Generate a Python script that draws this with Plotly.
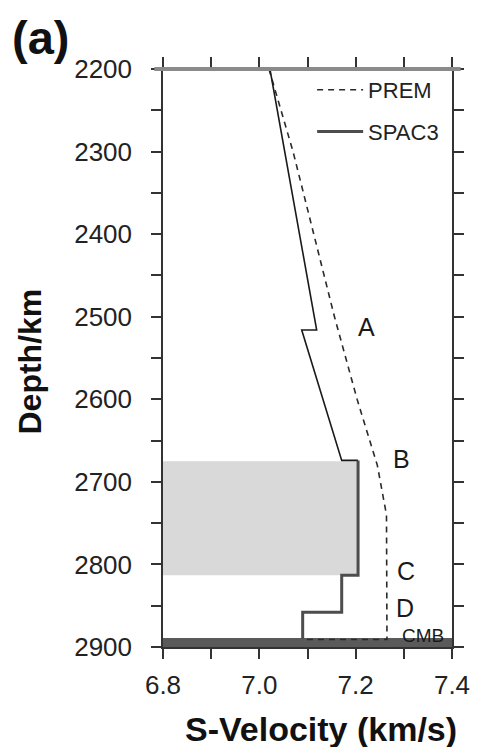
import plotly.graph_objects as go

# ---- data (depth in km, S-velocity in km/s) ----
prem_depth = [2200, 2300, 2400, 2500, 2600, 2680, 2740, 2891, 2891]
prem_vs = [7.02, 7.07, 7.113, 7.156, 7.203, 7.245, 7.264, 7.265, 7.09]

spac3_upper_depth = [2200, 2516, 2516, 2674, 2674]
spac3_upper_vs = [7.022, 7.119, 7.088, 7.171, 7.205]

spac3_lower_depth = [2674, 2813, 2813, 2858, 2858, 2890]
spac3_lower_vs = [7.205, 7.205, 7.171, 7.171, 7.090, 7.090]

box_depth = [2675, 2813]
box_vs = [6.8, 7.205]

cmb_band_depth = [2889, 2900]
cmb_band_vs = [6.8, 7.4]

labels = ["A", "B", "C", "D"]
label_vs = [7.223, 7.295, 7.304, 7.302]
label_depth = [2512, 2672, 2808, 2853]
cmb_label = ("CMB", 7.34, 2886)

x_ticks = [6.8, 7.0, 7.2, 7.4]
y_ticks = [2200, 2300, 2400, 2500, 2600, 2700, 2800, 2900]

FONT = "Liberation Sans, Arial, sans-serif"

fig = go.Figure()

# grey shaded region
fig.add_trace(go.Scatter(
    x=[box_vs[0], box_vs[1], box_vs[1], box_vs[0], box_vs[0]],
    y=[box_depth[0], box_depth[0], box_depth[1], box_depth[1], box_depth[0]],
    fill="toself", fillcolor="#d9d9d9", line=dict(width=0),
    mode="lines", showlegend=False, hoverinfo="skip"))

# CMB band
fig.add_trace(go.Scatter(
    x=[cmb_band_vs[0], cmb_band_vs[1], cmb_band_vs[1], cmb_band_vs[0], cmb_band_vs[0]],
    y=[cmb_band_depth[0], cmb_band_depth[0], cmb_band_depth[1], cmb_band_depth[1], cmb_band_depth[0]],
    fill="toself", fillcolor="#5a5a5a", line=dict(width=0),
    mode="lines", showlegend=False, hoverinfo="skip"))

# PREM
fig.add_trace(go.Scatter(
    x=prem_vs, y=prem_depth, mode="lines", name="PREM", legendgroup="prem",
    line=dict(color="#2a2a2a", width=1.6, dash="6px,5px")))

# SPAC3
fig.add_trace(go.Scatter(
    x=spac3_upper_vs, y=spac3_upper_depth, mode="lines", showlegend=False,
    line=dict(color="#1a1a1a", width=1.6)))
fig.add_trace(go.Scatter(
    x=spac3_lower_vs, y=spac3_lower_depth, mode="lines", name="SPAC3", legendgroup="spac3",
    line=dict(color="#4d4d4d", width=3)))

for t, v, d in zip(labels, label_vs, label_depth):
    fig.add_annotation(x=v, y=d, text=t, showarrow=False,
                       font=dict(family=FONT, size=25, color="#1a1a1a"))
fig.add_annotation(x=cmb_label[1], y=cmb_label[2], text=cmb_label[0], showarrow=False,
                   font=dict(family=FONT, size=19, color="#1a1a1a"))

fig.add_annotation(xref="paper", yref="paper", x=-0.53, y=1.054,
                   xanchor="left", yanchor="middle", text="<b>(a)</b>", showarrow=False,
                   font=dict(family=FONT, size=47, color="#111111"))

# axis titles
fig.add_annotation(xref="paper", yref="paper", x=0.545, y=-0.142,
                   xanchor="center", yanchor="middle", text="<b>S-Velocity (km/s)</b>",
                   showarrow=False, font=dict(family=FONT, size=34, color="#111111"))
fig.add_annotation(xref="paper", yref="paper", x=-0.46, y=0.494, textangle=-90,
                   xanchor="center", yanchor="middle", text="<b>Depth/km</b>",
                   showarrow=False, font=dict(family=FONT, size=32, color="#111111"))

# top gray edge
fig.add_shape(type="line", xref="paper", yref="paper", x0=-0.03, x1=1.03, y0=1, y1=1,
              line=dict(color="#8a8a8a", width=4))

axis_common = dict(
    showline=True, linecolor="#333333", linewidth=1.5, mirror="ticks",
    ticks="outside", ticklen=10, tickwidth=2, tickcolor="#333333",
    showgrid=False, zeroline=False,
    tickfont=dict(family=FONT, size=26, color="#222222"),
)

fig.update_xaxes(
    range=[6.8, 7.4], tickvals=x_ticks, ticktext=[f"{v:.1f}" for v in x_ticks],
    minor=dict(dtick=0.1, ticks="outside", ticklen=10, tickwidth=2, tickcolor="#333333"),
    ticklabelstandoff=4,
    **axis_common)
fig.update_yaxes(
    range=[2900, 2200], tickvals=y_ticks,
    minor=dict(dtick=50, ticks="outside", ticklen=10, tickwidth=2, tickcolor="#333333"),
    ticklabelstandoff=14,
    **axis_common)

fig.update_layout(
    width=477, height=747,
    margin=dict(l=163, r=25, t=69, b=100, autoexpand=False),
    plot_bgcolor="white", paper_bgcolor="white",
    showlegend=True,
    legend=dict(x=0.516, y=1.0, xanchor="left", yanchor="top",
                bgcolor="rgba(0,0,0,0)", font=dict(family=FONT, size=22, color="#222222"),
                tracegroupgap=10, itemwidth=46),
)

fig.write_html("out.html")
